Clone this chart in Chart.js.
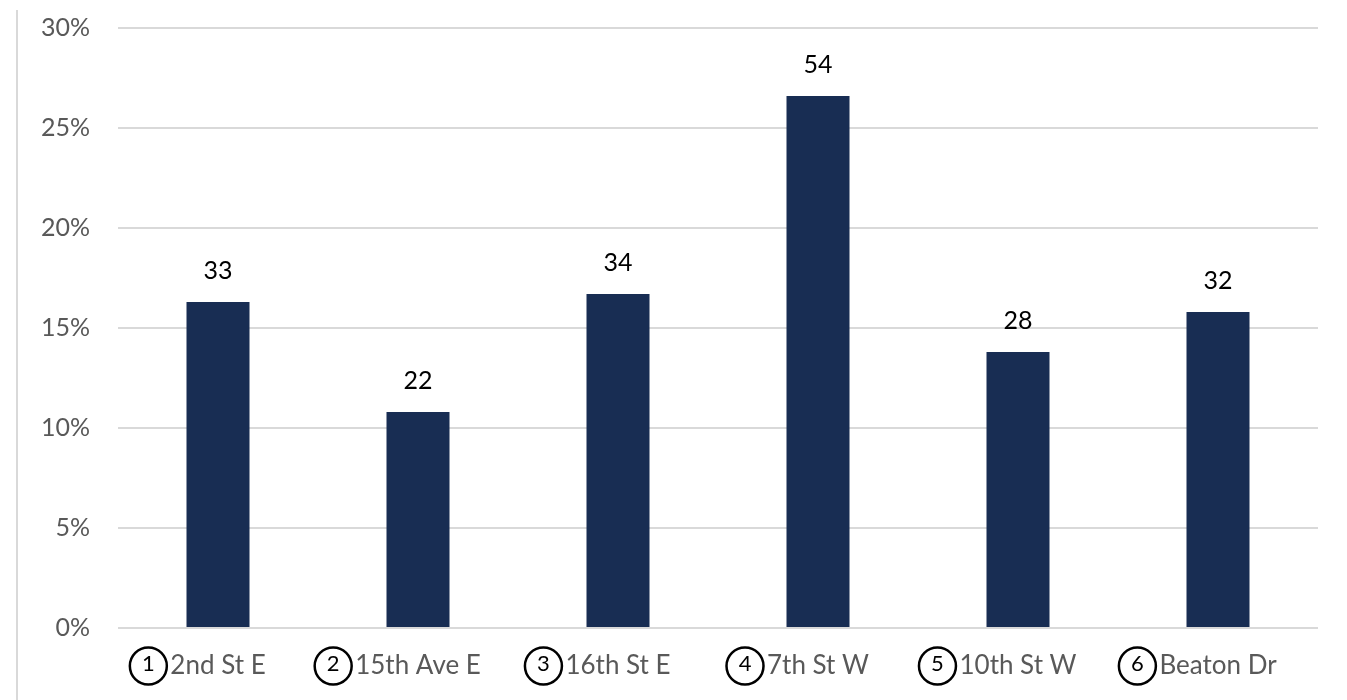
<!DOCTYPE html>
<html>
<head>
<meta charset="utf-8">
<script src="https://cdn.jsdelivr.net/npm/chart.js@4/dist/chart.umd.min.js"></script>
<style>
html,body{margin:0;padding:0;background:#fff;}
#wrap{width:1347px;height:700px;position:relative;}
</style>
</head>
<body>
<div id="wrap"><canvas id="c" width="1347" height="700"></canvas></div>
<script>
const categories = ["2nd St E", "15th Ave E", "16th St E", "7th St W", "10th St W", "Beaton Dr"];
const markerNumbers = ["1", "2", "3", "4", "5", "6"];
const sharePercent = [16.3, 10.8, 16.7, 26.6, 13.8, 15.8];
const counts = [33, 22, 34, 54, 28, 32];
const yTicks = [0, 5, 10, 15, 20, 25, 30];

const FONT = "Lato, 'Open Sans', sans-serif";
const CAT_SIZE = 26;

const decorPlugin = {
  id: 'decor',
  afterDraw(chart) {
    const ctx = chart.ctx;
    const ca = chart.chartArea;
    // left frame line
    ctx.save();
    ctx.strokeStyle = '#d9d9d9';
    ctx.lineWidth = 2;
    ctx.beginPath();
    ctx.moveTo(17, 10);
    ctx.lineTo(17, 700);
    ctx.stroke();
    ctx.restore();

    // data labels
    const meta = chart.getDatasetMeta(0);
    ctx.save();
    ctx.fillStyle = '#000';
    ctx.font = '25px ' + FONT;
    ctx.textAlign = 'center';
    ctx.textBaseline = 'middle';
    meta.data.forEach((bar, i) => {
      ctx.fillText(String(counts[i]), bar.x, bar.y - 31);
    });
    ctx.restore();

    // circled numbers
    const xs = chart.scales.x;
    ctx.save();
    categories.forEach((lab, i) => {
      const x = xs.getPixelForTick(i);
      ctx.font = CAT_SIZE + 'px ' + FONT;
      const w = ctx.measureText(lab).width;
      const cx = x - w / 2 - 22;
      const cy = ca.bottom + 38;
      ctx.beginPath();
      ctx.arc(cx, cy, 18.5, 0, Math.PI * 2);
      ctx.strokeStyle = '#000';
      ctx.lineWidth = 2.5;
      ctx.stroke();
      ctx.font = '22px ' + FONT;
      ctx.fillStyle = '#000';
      ctx.textAlign = 'center';
      ctx.textBaseline = 'middle';
      ctx.fillText(markerNumbers[i], cx, cy - 2);
    });
    ctx.restore();
  }
};

new Chart(document.getElementById('c'), {
  type: 'bar',
  data: {
    labels: categories,
    datasets: [{
      data: sharePercent,
      backgroundColor: '#182d53',
      borderWidth: 0,
      categoryPercentage: 1,
      barPercentage: 0.315
    }]
  },
  options: {
    responsive: false,
    animation: false,
    layout: { padding: { top: 28, right: 29, left: 0, bottom: 0 } },
    plugins: { legend: { display: false }, tooltip: { enabled: false } },
    scales: {
      x: {
        grid: { display: false, drawTicks: false },
        border: { display: false },
        ticks: {
          color: '#595959',
          font: { family: FONT, size: CAT_SIZE },
          padding: 22,
          maxRotation: 0,
          autoSkip: false
        },
        afterFit(s) { s.height = 72; }
      },
      y: {
        min: 0,
        max: 30,
        afterBuildTicks(s) { s.ticks = yTicks.map(v => ({ value: v })); },
        grid: { color: '#d9d9d9', lineWidth: 2, drawTicks: true, tickLength: 28, tickColor: 'rgba(0,0,0,0)' },
        border: { display: false },
        ticks: {
          color: '#595959',
          font: { family: FONT, size: 25 },
          padding: 0,
          callback: v => v + '%'
        },
        afterFit(s) { s.width = 118; }
      }
    }
  },
  plugins: [decorPlugin]
});
</script>
</body>
</html>
